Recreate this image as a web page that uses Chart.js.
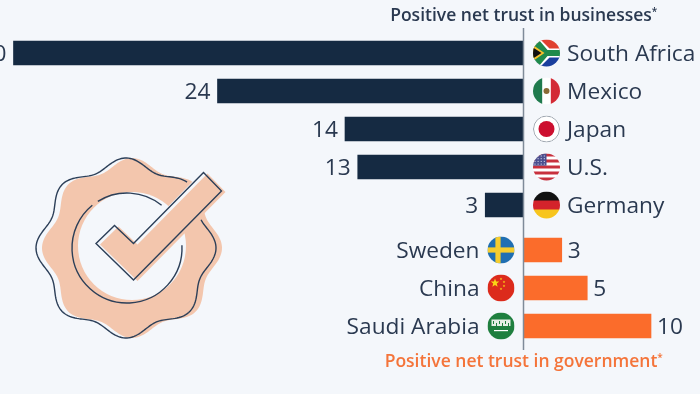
<!DOCTYPE html>
<html>
<head>
<meta charset="utf-8">
<title>Positive net trust</title>
<script src="https://cdn.jsdelivr.net/npm/chart.js@4"></script>
<style>
  html, body { margin: 0; padding: 0; background: #f4f7fb; }
  canvas { display: block; }
</style>
</head>
<body>
<canvas id="chart" width="700" height="394"></canvas>
<script>
// Data
const businessCountries = ["South Africa", "Mexico", "Japan", "U.S.", "Germany"];
const businessValues = [40, 24, 14, 13, 3];
const governmentCountries = ["Sweden", "China", "Saudi Arabia"];
const governmentValues = [3, 5, 10];
const businessTitle = "Positive net trust in businesses";
const governmentTitle = "Positive net trust in government";

const NAVY = "#152a42";
const ORANGE = "#fb6c2b";
const TEXT = "#2a3950";
const PEACH = "#f3c6ad";
const BG = "#f4f7fb";
const FONT = "'Open Sans'";

// one unit is 12.75px and zero sits at x=523.5
const xMin = -523.5 / 12.75;
const xMax = (700 - 523.5) / 12.75;

function stripes(ctx, colors, r) {
  const h = 2 * r / colors.length;
  colors.forEach((c, i) => {
    ctx.fillStyle = c;
    ctx.fillRect(-r, -r + i * h, 2 * r, h + 0.5);
  });
}

function star(ctx, x, y, r) {
  ctx.beginPath();
  for (let i = 0; i < 10; i++) {
    const a = -Math.PI / 2 + i * Math.PI / 5;
    const d = i % 2 ? r * 0.42 : r;
    ctx.lineTo(x + d * Math.cos(a), y + d * Math.sin(a));
  }
  ctx.closePath();
  ctx.fill();
}

function poly(ctx, pts, fill) {
  ctx.beginPath();
  pts.forEach(p => ctx.lineTo(p[0], p[1]));
  ctx.closePath();
  ctx.fillStyle = fill;
  ctx.fill();
}

// flags are drawn around 0,0 inside a clipped circle
const flags = {
  "South Africa": (ctx, r) => {
    stripes(ctx, ["#e0402f", "#1a3f9e"], r);
    poly(ctx, [[-r, -r], [-6, -r], [3, -4.5], [r, -4.5], [r, 4.5], [3, 4.5], [-6, r], [-r, r]], "#fff");
    poly(ctx, [[-r, -r * 0.9], [-8, -r], [1, -3], [r, -3], [r, 3], [1, 3], [-8, r], [-r, r * 0.9]], "#1f8a4c");
    poly(ctx, [[-r, -8], [-2, 0], [-r, 8]], "#f6c02c");
    poly(ctx, [[-r, -5.5], [-5, 0], [-r, 5.5]], "#111");
  },
  "Mexico": (ctx, r) => {
    ctx.fillStyle = "#fff";
    ctx.fillRect(-r, -r, 2 * r, 2 * r);
    ctx.fillStyle = "#1f7a4d";
    ctx.fillRect(-r, -r, r * 0.68, 2 * r);
    ctx.fillStyle = "#d32a35";
    ctx.fillRect(r * 0.32, -r, r, 2 * r);
    ctx.fillStyle = "#8a6a35";
    ctx.beginPath();
    ctx.arc(0, 0, 3, 0, Math.PI * 2);
    ctx.fill();
  },
  "Japan": (ctx, r) => {
    ctx.fillStyle = "#fff";
    ctx.fillRect(-r, -r, 2 * r, 2 * r);
    ctx.fillStyle = "#cc0f2f";
    ctx.beginPath();
    ctx.arc(0, 0, 8, 0, Math.PI * 2);
    ctx.fill();
    ctx.strokeStyle = "#9aa3ad";
    ctx.lineWidth = 1;
    ctx.beginPath();
    ctx.arc(0, 0, r - 0.5, 0, Math.PI * 2);
    ctx.stroke();
  },
  "U.S.": (ctx, r) => {
    const red = "#c8313e";
    stripes(ctx, [red, "#fff", red, "#fff", red, "#fff", red, "#fff", red], r);
    ctx.fillStyle = "#4b4f8f";
    ctx.fillRect(-r, -r, r, r * 0.9);
    ctx.fillStyle = "#e8e9f4";
    for (let a = 0; a < 4; a++) {
      for (let b = 0; b < 4; b++) {
        ctx.fillRect(-r + 1.5 + b * 3.1, -r + 2 + a * 2.7, 1, 1);
      }
    }
  },
  "Germany": (ctx, r) => stripes(ctx, ["#111", "#d4232b", "#f7c51e"], r),
  "Sweden": (ctx, r) => {
    ctx.fillStyle = "#1f6fb2";
    ctx.fillRect(-r, -r, 2 * r, 2 * r);
    ctx.fillStyle = "#f5cd2e";
    ctx.fillRect(-r, -2.6, 2 * r, 5.2);
    ctx.fillRect(-5.6, -r, 5.2, 2 * r);
  },
  "China": (ctx, r) => {
    ctx.fillStyle = "#dc2b1c";
    ctx.fillRect(-r, -r, 2 * r, 2 * r);
    ctx.fillStyle = "#f9d616";
    star(ctx, -6, -5, 4.5);
    star(ctx, 0, -9, 1.4);
    star(ctx, 3, -6, 1.4);
    star(ctx, 3, -2, 1.4);
    star(ctx, 0, 1, 1.4);
  },
  "Saudi Arabia": (ctx, r) => {
    ctx.fillStyle = "#1f7f3f";
    ctx.fillRect(-r, -r, 2 * r, 2 * r);
    ctx.fillStyle = "#e6efe6";
    ctx.fillRect(-9.5, -6.5, 19, 6.5);
    ctx.fillStyle = "#1f7f3f";
    for (let i = 0; i < 6; i++) {
      ctx.fillRect(-8 + i * 3, -5 + (i % 2) * 2, 1, 3);
    }
    ctx.fillStyle = "#fff";
    ctx.fillRect(-7, 4, 14, 1.2);
  }
};

function drawFlag(ctx, name, cx, cy) {
  const r = 13.5;
  ctx.save();
  ctx.translate(cx, cy);
  ctx.beginPath();
  ctx.arc(0, 0, r, 0, Math.PI * 2);
  ctx.clip();
  flags[name](ctx, r);
  ctx.restore();
}

function waveRadius(a) {
  return 85 + 5 * Math.cos(8 * (a + Math.PI / 2));
}

function wavePath(ctx, cx, cy, from, to) {
  ctx.beginPath();
  for (let a = from; a <= to; a += 0.02) {
    const d = waveRadius(a);
    ctx.lineTo(cx + d * Math.cos(a), cy + d * Math.sin(a));
  }
}

const checkMark = [[96, 243.5], [114.5, 225.5], [133.5, 243.5], [203.5, 172.5], [221.5, 191], [133.5, 280]];

function drawBadge(ctx) {
  ctx.save();
  // peach ring
  wavePath(ctx, 132, 248, 0, Math.PI * 2 + 0.02);
  ctx.closePath();
  ctx.fillStyle = PEACH;
  ctx.fill();
  ctx.fillStyle = BG;
  ctx.beginPath();
  ctx.arc(132, 246, 54, 0, Math.PI * 2);
  ctx.fill();
  // check mark, gap in background colour then peach on top
  poly(ctx, checkMark.map(p => [p[0] - 1, p[1] - 1]), BG);
  poly(ctx, checkMark.map(p => [p[0] + 4, p[1] + 1]), PEACH);
  // outlines, with the gaps the reference has
  ctx.strokeStyle = "#2c3f58";
  ctx.lineWidth = 1.4;
  wavePath(ctx, 126, 248, -0.36, Math.PI * 2 - 0.82);
  ctx.stroke();
  ctx.beginPath();
  ctx.arc(127, 248, 55, -0.05, 4.03);
  ctx.stroke();
  ctx.beginPath();
  ctx.arc(127, 248, 55, -2.13, -0.89);
  ctx.stroke();
  ctx.beginPath();
  checkMark.forEach(p => ctx.lineTo(p[0], p[1]));
  ctx.closePath();
  ctx.stroke();
  ctx.restore();
}

function drawTitle(ctx, text, cx, y, color) {
  ctx.font = "600 17.5px " + FONT;
  const w = ctx.measureText(text).width;
  ctx.textAlign = "left";
  ctx.textBaseline = "middle";
  ctx.fillStyle = color;
  ctx.fillText(text, cx - w / 2 - 2, y);
  ctx.font = "600 10px " + FONT;
  ctx.fillText("*", cx + w / 2 - 2, y - 4);
}

const labelPlugin = {
  id: "labels",
  beforeDatasetsDraw(chart) {
    drawBadge(chart.ctx);
  },
  afterDatasetsDraw(chart) {
    const ctx = chart.ctx;
    const zero = chart.scales.x.getPixelForValue(0);

    // axis line
    ctx.save();
    ctx.strokeStyle = "#7f8b99";
    ctx.lineWidth = 1.5;
    ctx.beginPath();
    ctx.moveTo(zero, 28);
    ctx.lineTo(zero, 350);
    ctx.stroke();

    ctx.textBaseline = "middle";
    const valueFont = "22.7px " + FONT;

    chart.getDatasetMeta(0).data.forEach((bar, i) => {
      ctx.font = valueFont;
      ctx.fillStyle = TEXT;
      ctx.textAlign = "right";
      ctx.fillText(String(businessValues[i]), bar.x - 7, bar.y + 2);
      ctx.textAlign = "left";
      ctx.fillText(businessCountries[i], 567, bar.y + 2);
      drawFlag(ctx, businessCountries[i], 546.5, bar.y);
    });

    chart.getDatasetMeta(1).data.forEach((bar, i) => {
      ctx.font = valueFont;
      ctx.fillStyle = TEXT;
      ctx.textAlign = "left";
      ctx.fillText(String(governmentValues[i]), bar.x + 6, bar.y + 2);
      ctx.textAlign = "right";
      ctx.fillText(governmentCountries[i], 479.5, bar.y + 2);
      drawFlag(ctx, governmentCountries[i], 501, bar.y);
    });

    drawTitle(ctx, businessTitle, 523, 16, TEXT);
    drawTitle(ctx, governmentTitle, 523, 362, "#f4743a");
    ctx.restore();
  }
};

new Chart(document.getElementById("chart"), {
  type: "bar",
  data: {
    datasets: [
      {
        label: "Businesses",
        data: businessValues.map(v => -v),
        yAxisID: "yBusiness",
        backgroundColor: NAVY,
        barThickness: 24,
        grouped: false
      },
      {
        label: "Government",
        data: governmentValues,
        yAxisID: "yGovernment",
        backgroundColor: ORANGE,
        barThickness: 24,
        grouped: false
      }
    ]
  },
  options: {
    indexAxis: "y",
    responsive: false,
    animation: false,
    layout: { padding: { top: 34, bottom: 49, left: 0, right: 0 } },
    plugins: {
      legend: { display: false },
      tooltip: { enabled: false }
    },
    scales: {
      x: { type: "linear", min: xMin, max: xMax, display: false },
      // stacked axes fill from the bottom up, so the lowest block comes first
      yGovernment: {
        type: "category", labels: governmentCountries, position: "left",
        stack: "rows", stackWeight: 114, display: false, offset: true
      },
      yGap: {
        type: "category", labels: [""], position: "left",
        stack: "rows", stackWeight: 7, display: false
      },
      yBusiness: {
        type: "category", labels: businessCountries, position: "left",
        stack: "rows", stackWeight: 190, display: false, offset: true
      }
    }
  },
  plugins: [labelPlugin]
});
</script>
</body>
</html>
